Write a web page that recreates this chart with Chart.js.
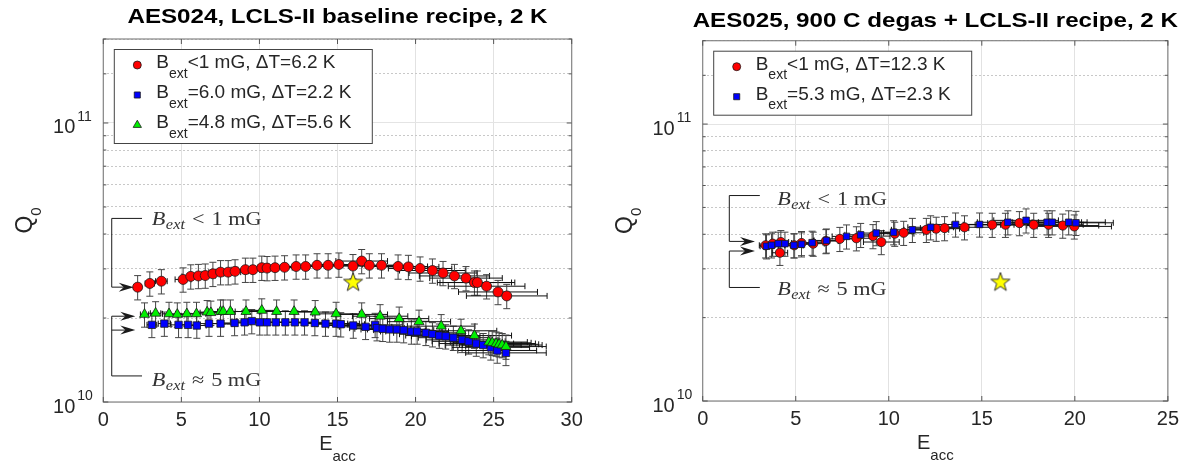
<!DOCTYPE html>
<html>
<head>
<meta charset="utf-8">
<title>Q0 vs Eacc, AES024 / AES025</title>
<script src="https://cdn.jsdelivr.net/npm/chart.js@4.4.1/dist/chart.umd.min.js"></script>
<style>
  html, body { margin: 0; padding: 0; background: #fff; }
  #wrap { position: relative; width: 1185px; height: 465px; overflow: hidden; }
  .panel { position: absolute; top: 0; height: 465px; }
  #panel-left { left: 0; width: 600px; }
  #panel-right { left: 600px; width: 585px; }
</style>
</head>
<body>
<div id="wrap">
  <div class="panel" id="panel-left"><canvas id="chart-left"></canvas></div>
  <div class="panel" id="panel-right"><canvas id="chart-right"></canvas></div>
</div>
<script>
// ---- data (Eacc in MV/m, Q0 in units of 1e10) ----
const aes024RedE = [2.20, 2.98, 3.72, 5.11, 5.60, 6.09, 6.53, 7.02, 7.51, 8.00, 8.44, 9.10, 9.58, 10.15, 10.49, 11.00, 11.61, 12.35, 12.96, 13.69, 14.40, 15.09, 15.99, 16.55, 17.04, 17.82, 18.88, 19.54, 20.29, 21.08, 21.76, 22.49, 23.23, 23.77, 23.96, 24.55, 25.28, 25.84];
const aes024RedQ = [2.58, 2.66, 2.71, 2.75, 2.82, 2.83, 2.84, 2.88, 2.92, 2.92, 2.94, 2.98, 2.98, 3.03, 3.02, 3.03, 3.04, 3.06, 3.06, 3.09, 3.09, 3.11, 3.07, 3.20, 3.09, 3.09, 3.06, 3.05, 3.01, 2.96, 2.90, 2.83, 2.78, 2.68, 2.68, 2.60, 2.48, 2.40];

const aes024BlueE = [3.11, 3.91, 4.82, 5.43, 5.99, 6.77, 7.51, 8.41, 9.05, 9.51, 10.02, 10.49, 11.05, 11.66, 12.27, 12.89, 13.55, 14.23, 14.91, 15.21, 16.01, 16.80, 17.41, 17.53, 17.90, 18.34, 18.80, 19.24, 19.73, 20.10, 20.66, 21.08, 21.52, 21.93, 22.42, 22.98, 23.40, 23.89, 24.33, 24.82, 25.23, 25.79];
const aes024BlueQ = [1.89, 1.91, 1.89, 1.89, 1.88, 1.91, 1.91, 1.92, 1.93, 1.95, 1.93, 1.93, 1.93, 1.93, 1.93, 1.93, 1.92, 1.91, 1.91, 1.90, 1.88, 1.86, 1.89, 1.84, 1.83, 1.82, 1.82, 1.81, 1.79, 1.79, 1.77, 1.75, 1.73, 1.72, 1.70, 1.67, 1.65, 1.62, 1.60, 1.57, 1.53, 1.50];

const aes024GreenE = [2.64, 3.35, 4.21, 4.74, 5.35, 5.97, 6.65, 6.89, 7.51, 7.68, 8.14, 9.14, 10.15, 11.10, 12.22, 13.57, 14.91, 16.55, 17.73, 18.95, 20.22, 21.64, 22.91, 23.77, 24.69, 24.91, 25.16, 25.35, 25.55, 25.79];
const aes024GreenQ = [2.06, 2.08, 2.07, 2.06, 2.07, 2.07, 2.10, 2.09, 2.11, 2.11, 2.11, 2.11, 2.13, 2.11, 2.11, 2.10, 2.07, 2.06, 2.03, 1.99, 1.94, 1.87, 1.80, 1.73, 1.64, 1.63, 1.62, 1.61, 1.60, 1.58];

const aes025RedE = [3.38, 3.76, 4.15, 4.20, 4.92, 5.31, 5.94, 6.62, 7.37, 8.26, 9.15, 9.60, 10.32, 10.80, 12.02, 12.55, 13.00, 14.07, 15.56, 16.27, 17.02, 17.79, 18.59, 19.35, 19.97];
const aes025RedQ = [3.65, 3.70, 3.43, 3.75, 3.65, 3.72, 3.70, 3.78, 3.85, 3.87, 3.94, 3.75, 4.02, 4.05, 4.15, 4.19, 4.21, 4.24, 4.33, 4.33, 4.39, 4.33, 4.33, 4.30, 4.27];

const aes025BlueE = [3.43, 3.70, 4.06, 4.42, 4.90, 5.31, 5.88, 6.65, 7.73, 8.49, 9.33, 10.26, 11.27, 12.25, 13.59, 14.88, 16.40, 17.38, 18.51, 18.78, 19.67, 20.06];
const aes025BlueQ = [3.62, 3.65, 3.70, 3.70, 3.65, 3.68, 3.73, 3.80, 3.93, 3.98, 4.04, 4.07, 4.15, 4.24, 4.34, 4.34, 4.42, 4.49, 4.42, 4.42, 4.42, 4.40];

// LCLS-II specification point (yellow star), same on both panels
const specE = [16];
const specQ = [2.68];

// measurement uncertainty, as fractions of the value
const errFracE = 0.10;
const errFracQ = 0.10;

const yDecades = [1e10, 1e11];
const yDecadeExp = ['10', '11'];

// ---- look ----
const SANS = "'Liberation Sans', Arial, sans-serif";
const SERIF = "'Liberation Serif', 'Times New Roman', serif";
const TEXT = '#262626';
const RED = '#ff0000', BLUE = '#0000ff', GREEN = '#00f000';

function pts(E, Q) {
    return E.map((e, i) => ({ x: e, y: Q[i] * 1e10 }));
}

function isDecade(v) {
    const l = Math.log10(v);
    return Math.abs(l - Math.round(l)) < 1e-6;
}

function makeStar() {
    const c = document.createElement('canvas');
    c.width = 24; c.height = 24;
    const g = c.getContext('2d');
    g.beginPath();
    for (let i = 0; i < 10; i++) {
        const r = i % 2 === 0 ? 10 : 4;
        const a = -Math.PI / 2 + i * Math.PI / 5;
        const px = 12 + r * Math.cos(a), py = 12 + r * Math.sin(a);
        if (i === 0) g.moveTo(px, py); else g.lineTo(px, py);
    }
    g.closePath();
    g.fillStyle = '#ffff00';
    g.fill();
    g.strokeStyle = '#333';
    g.lineWidth = 1;
    g.stroke();
    return c;
}
const starStyle = makeStar();

function drawMarker(ctx, style, x, y, r, fill) {
    ctx.beginPath();
    if (style === 'circle') {
        ctx.arc(x, y, r, 0, Math.PI * 2);
    } else if (style === 'rect') {
        const s = r * Math.SQRT1_2;
        ctx.rect(x - s, y - s, 2 * s, 2 * s);
    } else {
        ctx.moveTo(x, y - r);
        ctx.lineTo(x + r * 0.866, y + r * 0.5);
        ctx.lineTo(x - r * 0.866, y + r * 0.5);
        ctx.closePath();
    }
    ctx.fillStyle = fill;
    ctx.fill();
    ctx.lineWidth = 0.8;
    ctx.strokeStyle = '#1a1a1a';
    ctx.stroke();
}

function arrowHead(ctx, x, y) {
    ctx.beginPath();
    ctx.moveTo(x, y);
    ctx.lineTo(x - 15, y - 4.5);
    ctx.lineTo(x - 10, y);
    ctx.lineTo(x - 15, y + 4.5);
    ctx.closePath();
    ctx.fillStyle = '#1a1a1a';
    ctx.fill();
}

// error bars under the markers
const errorBars = {
    id: 'errorBars',
    beforeDatasetsDraw(chart) {
        const { ctx, scales: { x, y } } = chart;
        ctx.save();
        ctx.lineWidth = 1;
        chart.data.datasets.forEach(ds => {
            if (!ds.withErrors) return;
            ds.data.forEach(p => {
                const cx = x.getPixelForValue(p.x), cy = y.getPixelForValue(p.y);
                const yt = y.getPixelForValue(p.y * (1 + errFracQ));
                const yb = y.getPixelForValue(p.y * (1 - errFracQ));
                const xl = x.getPixelForValue(p.x * (1 - errFracE));
                const xr = x.getPixelForValue(p.x * (1 + errFracE));
                ctx.strokeStyle = '#111';
                ctx.beginPath();
                ctx.moveTo(xl, cy); ctx.lineTo(xr, cy);
                ctx.moveTo(xl, cy - 3); ctx.lineTo(xl, cy + 3);
                ctx.moveTo(xr, cy - 3); ctx.lineTo(xr, cy + 3);
                ctx.stroke();
                ctx.strokeStyle = '#444';
                ctx.beginPath();
                ctx.moveTo(cx, yt); ctx.lineTo(cx, yb);
                ctx.moveTo(cx - 3.5, yt); ctx.lineTo(cx + 3.5, yt);
                ctx.moveTo(cx - 3.5, yb); ctx.lineTo(cx + 3.5, yb);
                ctx.stroke();
            });
        });
        ctx.restore();
    }
};

// frame, ticks, labels, legend, bracket annotations and title
function decorations(cfg) {
    return {
        id: 'decorations',
        afterDatasetsDraw(chart) {
            const { ctx, chartArea: a, scales: { x, y } } = chart;
            ctx.save();

            // box
            ctx.strokeStyle = '#858585';
            ctx.lineWidth = 1.2;
            ctx.strokeRect(a.left, a.top, a.right - a.left, a.bottom - a.top);

            // inward ticks
            ctx.strokeStyle = '#555';
            ctx.lineWidth = 1;
            ctx.beginPath();
            x.ticks.forEach(t => {
                const px = x.getPixelForValue(t.value);
                ctx.moveTo(px, a.bottom); ctx.lineTo(px, a.bottom - 5);
                ctx.moveTo(px, a.top); ctx.lineTo(px, a.top + 5);
            });
            y.ticks.forEach(t => {
                const py = y.getPixelForValue(t.value);
                const len = isDecade(t.value) ? 5 : 3;
                ctx.moveTo(a.left, py); ctx.lineTo(a.left + len, py);
                ctx.moveTo(a.right, py); ctx.lineTo(a.right - len, py);
            });
            ctx.stroke();

            // y tick labels 10^n
            ctx.fillStyle = TEXT;
            ctx.textBaseline = 'alphabetic';
            yDecades.forEach((v, i) => {
                const py = y.getPixelForValue(v);
                ctx.textAlign = 'right';
                ctx.font = `20px ${SANS}`;
                ctx.fillText('10', a.left - 28, py + 10.5);
                ctx.textAlign = 'left';
                ctx.font = `14px ${SANS}`;
                ctx.fillText(yDecadeExp[i], a.left - 26, py - 2);
            });

            // x title E_acc
            ctx.textAlign = 'left';
            ctx.font = `20px ${SANS}`;
            const wE = ctx.measureText('E').width;
            ctx.font = `15px ${SANS}`;
            const wAcc = ctx.measureText('acc').width;
            const x0 = (a.left + a.right) / 2 - (wE + wAcc) / 2;
            ctx.font = `20px ${SANS}`;
            ctx.fillText('E', x0, a.bottom + 48);
            ctx.font = `15px ${SANS}`;
            ctx.fillText('acc', x0 + wE, a.bottom + 59);

            // y title Q_0
            ctx.save();
            ctx.translate(32, (a.top + a.bottom) / 2);
            ctx.rotate(-Math.PI / 2);
            ctx.font = `23px ${SANS}`;
            const wQ = ctx.measureText('Q').width;
            ctx.font = `15px ${SANS}`;
            const w0 = ctx.measureText('0').width;
            const q0 = -(wQ + w0) / 2;
            ctx.font = `23px ${SANS}`;
            ctx.fillText('Q', q0, 0);
            ctx.font = `15px ${SANS}`;
            ctx.fillText('0', q0 + wQ, 9);
            ctx.restore();

            // title
            ctx.save();
            ctx.translate((a.left + a.right) / 2, cfg.titleBase);
            ctx.scale(1.15, 1);
            ctx.textAlign = 'center';
            ctx.fillStyle = '#000';
            ctx.font = `bold 21px ${SANS}`;
            ctx.fillText(cfg.title, 0, 0);
            ctx.restore();

            // bracket annotations
            cfg.brackets.forEach(b => {
                const xl = x.getPixelForValue(b.lineE);
                const xe = x.getPixelForValue(b.endE);
                const xt = x.getPixelForValue(b.tipE);
                const ye = y.getPixelForValue(b.edgeQ * 1e10);
                const ys = b.arrowQ.map(q => y.getPixelForValue(q * 1e10));
                const far = ys.reduce((m, v) => (Math.abs(v - ye) > Math.abs(m - ye) ? v : m), ys[0]);
                ctx.strokeStyle = '#1a1a1a';
                ctx.lineWidth = 1;
                ctx.beginPath();
                ctx.moveTo(xe, ye); ctx.lineTo(xl, ye); ctx.lineTo(xl, far);
                ys.forEach(yy => { ctx.moveTo(xl, yy); ctx.lineTo(xt - 10, yy); });
                ctx.stroke();
                ys.forEach(yy => arrowHead(ctx, xt, yy));

                ctx.save();
                ctx.translate(x.getPixelForValue(b.textE), y.getPixelForValue(b.textQ * 1e10));
                ctx.scale(1.17, 1);
                ctx.fillStyle = '#333';
                ctx.textAlign = 'left';
                let w = 0;
                ctx.font = `italic 19px ${SERIF}`;
                ctx.fillText('B', w, 0);
                w += ctx.measureText('B').width + 0.5;
                ctx.font = `italic 14px ${SERIF}`;
                ctx.fillText('ext', w, 4);
                w += ctx.measureText('ext').width + 6;
                ctx.font = `19px ${SERIF}`;
                ctx.fillText(b.rel, w, 0);
                w += ctx.measureText(b.rel).width + 6;
                ctx.fillText(b.val, w, 0);
                ctx.restore();
            });

            // legend
            const lx = a.left + 11, ly = a.top + 10.5;
            const lw = 258, lh = 34 + 30 * (cfg.series.length - 1);
            ctx.fillStyle = '#fff';
            ctx.fillRect(lx, ly, lw, lh);
            ctx.strokeStyle = '#444';
            ctx.lineWidth = 1;
            ctx.strokeRect(lx, ly, lw, lh);
            cfg.series.forEach((s, i) => {
                const base = ly + 18.5 + 30 * i;
                drawMarker(ctx, s.style, lx + 23, base - 3, s.legendRadius, s.color);
                ctx.fillStyle = TEXT;
                ctx.textAlign = 'left';
                ctx.font = `19px ${SANS}`;
                ctx.fillText('B', lx + 42, base);
                const wB = ctx.measureText('B').width;
                ctx.font = `14px ${SANS}`;
                ctx.fillText('ext', lx + 42 + wB, base + 9.5);
                const wS = ctx.measureText('ext').width;
                ctx.font = `19px ${SANS}`;
                ctx.fillText(s.legend, lx + 42 + wB + wS, base);
            });

            ctx.restore();
        }
    };
}

function makePanel(canvasId, cfg) {
    const datasets = cfg.series.map(s => ({
        label: s.legend,
        data: pts(s.E, s.Q),
        pointStyle: s.style,
        pointRadius: s.radius,
        pointHoverRadius: s.radius,
        backgroundColor: s.color,
        pointBackgroundColor: s.color,
        borderColor: '#1a1a1a',
        pointBorderColor: '#1a1a1a',
        pointBorderWidth: 0.8,
        showLine: false,
        order: s.order,
        withErrors: true
    }));
    datasets.push({
        label: 'spec',
        data: pts(specE, specQ),
        pointStyle: starStyle,
        pointRadius: 10,
        showLine: false,
        order: 0
    });

    return new Chart(document.getElementById(canvasId), {
        type: 'scatter',
        data: { datasets },
        options: {
            responsive: true,
            maintainAspectRatio: false,
            animation: false,
            events: [],
            layout: { padding: { top: cfg.padTop, right: cfg.padRight, left: 0, bottom: 0 } },
            plugins: { legend: { display: false }, tooltip: { enabled: false }, title: { display: false } },
            scales: {
                x: {
                    type: 'linear',
                    min: 0,
                    max: cfg.maxE,
                    ticks: { stepSize: 5, color: TEXT, font: { family: SANS, size: 20 }, padding: 6, maxRotation: 0 },
                    grid: { color: '#e2e2e2', lineWidth: 1, drawTicks: false },
                    border: { display: false },
                    afterFit: (scale) => { scale.height = cfg.xHeight; }
                },
                y: {
                    type: 'logarithmic',
                    min: 1e10,
                    max: 2e11,
                    ticks: { display: false, autoSkip: false },
                    grid: {
                        drawTicks: false,
                        lineWidth: 1,
                        color: (c) => (c.tick && isDecade(c.tick.value) ? '#e4e4e4' : '#c8c8c8')
                    },
                    border: {
                        display: false,
                        dash: (c) => (c.tick && isDecade(c.tick.value) ? [] : [2, 2])
                    },
                    afterFit: (scale) => { scale.width = cfg.yWidth; }
                }
            }
        },
        plugins: [errorBars, decorations(cfg)]
    });
}

Chart.defaults.font.family = SANS;
Chart.defaults.color = TEXT;

makePanel('chart-left', {
    title: 'AES024, LCLS-II baseline recipe, 2 K',
    titleBase: 23,
    maxE: 30,
    padTop: 39, padRight: 28.3, yWidth: 103.3, xHeight: 63,
    series: [
        { E: aes024RedE, Q: aes024RedQ, color: RED, style: 'circle', radius: 5, legendRadius: 4, order: 3, legend: '<1 mG, \u0394T=6.2 K' },
        { E: aes024BlueE, Q: aes024BlueQ, color: BLUE, style: 'rect', radius: 5.2, legendRadius: 4.3, order: 2, legend: '=6.0 mG, \u0394T=2.2 K' },
        { E: aes024GreenE, Q: aes024GreenQ, color: GREEN, style: 'triangle', radius: 5.8, legendRadius: 4.8, order: 1, legend: '=4.8 mG, \u0394T=5.6 K' }
    ],
    brackets: [
        { lineE: 0.54, endE: 2.48, edgeQ: 4.55, arrowQ: [2.58], tipE: 1.95, textE: 3.1, textQ: 4.31, rel: '<', val: '1 mG' },
        { lineE: 0.54, endE: 2.48, edgeQ: 1.24, arrowQ: [2.03, 1.81], tipE: 2.05, textE: 3.1, textQ: 1.14, rel: '\u2248', val: '5 mG' }
    ]
});

makePanel('chart-right', {
    title: 'AES025, 900 C degas + LCLS-II recipe, 2 K',
    titleBase: 26.5,
    maxE: 25,
    padTop: 40.7, padRight: 16.3, yWidth: 102.7, xHeight: 64,
    series: [
        { E: aes025RedE, Q: aes025RedQ, color: RED, style: 'circle', radius: 4.6, legendRadius: 4, order: 2, legend: '<1 mG, \u0394T=12.3 K' },
        { E: aes025BlueE, Q: aes025BlueQ, color: BLUE, style: 'rect', radius: 4.6, legendRadius: 4.3, order: 1, legend: '=5.3 mG, \u0394T=2.3 K' }
    ],
    brackets: [
        { lineE: 1.43, endE: 3.07, edgeQ: 5.52, arrowQ: [3.77], tipE: 2.81, textE: 4.0, textQ: 5.12, rel: '<', val: '1 mG' },
        { lineE: 1.43, endE: 3.07, edgeQ: 2.57, arrowQ: [3.48], tipE: 2.81, textE: 4.0, textQ: 2.41, rel: '\u2248', val: '5 mG' }
    ]
});
</script>
</body>
</html>
